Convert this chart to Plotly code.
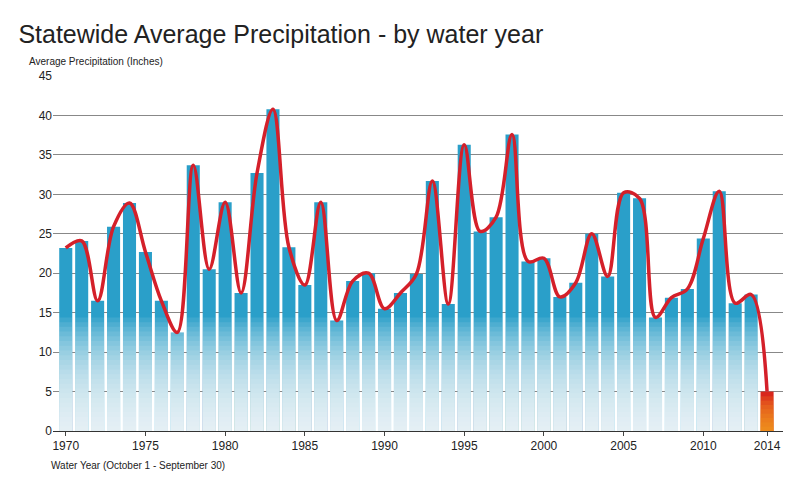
import plotly.graph_objects as go

years = list(range(1970, 2015))
precip = [23.2, 24.1, 16.5, 25.9, 28.9, 22.7, 16.5, 12.5, 33.7, 20.5,
          29.0, 17.5, 32.7, 40.8, 23.3, 18.5, 29.0, 14.0, 19.0, 20.0,
          15.5, 17.5, 19.9, 31.7, 16.1, 36.3, 25.3, 27.1, 37.6, 21.5,
          21.9, 17.0, 18.8, 25.0, 19.6, 30.2, 29.5, 14.4, 16.9, 18.0,
          24.4, 30.4, 16.2, 17.3, 5.0]
tick_years = [1970, 1975, 1980, 1985, 1990, 1995, 2000, 2005, 2010, 2014]

colors = ["#2a9fc9"] * (len(years) - 1) + ["#d9261c"]

fig = go.Figure()
fig.add_trace(go.Bar(x=years, y=precip, marker_color=colors, marker_line_width=0,
                     width=0.82, showlegend=False))

# fade toward the bottom of each bar (white for blue bars, orange for 2014)
n = 24
for k in range(n):
    h = 0.6 * (n - k)
    fig.add_trace(go.Bar(x=years[:-1], y=[min(v, h) for v in precip[:-1]],
                         marker_color="white", opacity=0.085, marker_line_width=0,
                         width=0.82, showlegend=False, hoverinfo="skip"))
for k in range(8):
    h = 0.55 * (8 - k)
    fig.add_trace(go.Bar(x=years[-1:], y=[min(precip[-1], h)],
                         marker_color="#f5a623", opacity=0.18, marker_line_width=0,
                         width=0.82, showlegend=False, hoverinfo="skip"))

fig.add_trace(go.Scatter(x=years, y=precip, mode="lines",
                         line=dict(color="#d4202a", width=3.5, shape="spline", smoothing=1.0),
                         showlegend=False))

fig.update_layout(
    width=800, height=493,
    barmode="overlay",
    paper_bgcolor="white", plot_bgcolor="white",
    margin=dict(l=45, r=25, t=68, b=70),
    font=dict(family="Liberation Sans, Arial", color="#222"),
    title=dict(text="Statewide Average Precipitation - by water year",
               x=0.013, xanchor="left", y=0.965, font=dict(size=25, color="#222")),
    annotations=[
        dict(text="Average Precipitation (Inches)", xref="paper", yref="paper",
             x=-0.035, y=1.02, xanchor="left", yanchor="bottom", showarrow=False,
             font=dict(size=10)),
        dict(text="Water Year (October 1 - September 30)", xref="paper", yref="paper",
             x=-0.005, y=-0.075, xanchor="left", yanchor="top", showarrow=False,
             font=dict(size=10)),
    ],
)
fig.update_yaxes(range=[0, 45], dtick=5, showgrid=True, gridcolor="#888", gridwidth=1,
                 tickfont=dict(size=12), zeroline=False, showline=False,
                 ticks="", ticklen=4)
fig.update_xaxes(range=[1969.2, 2015], tickvals=tick_years, tickfont=dict(size=12),
                 showgrid=False, showline=True, linecolor="#333", ticks="outside", ticklen=4)

fig.write_html("out.html")
